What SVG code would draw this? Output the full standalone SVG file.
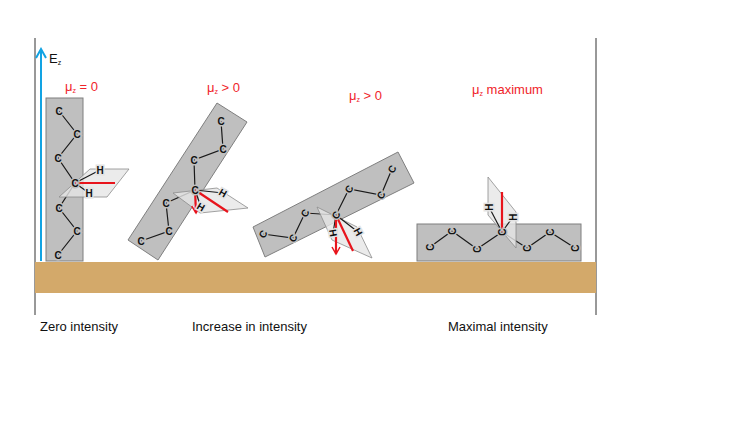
<svg xmlns="http://www.w3.org/2000/svg" width="750" height="421" viewBox="0 0 750 421">
<defs>
<marker id="rd" markerWidth="10" markerHeight="10" refX="8" refY="5" orient="auto" markerUnits="userSpaceOnUse"><path d="M1,1 L8,5 L1,9" fill="none" stroke="#e8141c" stroke-width="1.5"/></marker>
<marker id="bl" markerWidth="12" markerHeight="12" refX="10" refY="6" orient="auto" markerUnits="userSpaceOnUse"><path d="M1,1 L10,6 L1,11" fill="none" stroke="#12a3e3" stroke-width="2"/></marker>
</defs>
<style>
.sh{fill:#bfbfbf;stroke:#7f7f7f;stroke-width:1}
.pl{fill:#e6e6e6;fill-opacity:.8;stroke:#8c8c8c;stroke-width:.8}
.b{fill:none;stroke:#1a1a1a;stroke-width:1.2}
.c{font-family:"Liberation Sans",Arial,sans-serif;font-size:10px;font-weight:bold;fill:#111;text-anchor:middle;dominant-baseline:central;stroke:#bfbfbf;stroke-width:3px;paint-order:stroke}
.h{stroke:#e3e3e3}
.r{stroke:#e8141c;stroke-width:2.2;fill:none}
.mu{font-family:"Liberation Sans",Arial,sans-serif;font-size:13px;fill:#f0242a}
.lab{font-family:"Liberation Sans",Arial,sans-serif;font-size:13px;fill:#111}
</style>
<rect width="750" height="421" fill="#fff"/>
<line x1="35" y1="38" x2="35" y2="315" stroke="#333" stroke-width="1"/>
<line x1="596" y1="38" x2="596" y2="315" stroke="#333" stroke-width="1"/>
<rect x="35" y="262" width="561" height="31" fill="#d3a96a"/>
<line x1="41" y1="261" x2="41" y2="49" stroke="#12a3e3" stroke-width="2" marker-end="url(#bl)"/>
<text x="49" y="63" class="lab">E<tspan font-size="7" dy="2">z</tspan></text>
<text x="65" y="91" class="mu">μ<tspan font-size="7" dy="2">z</tspan><tspan dy="-2"> = 0</tspan></text>
<text x="207" y="92" class="mu">μ<tspan font-size="7" dy="2">z</tspan><tspan dy="-2"> &gt; 0</tspan></text>
<text x="349" y="100" class="mu">μ<tspan font-size="7" dy="2">z</tspan><tspan dy="-2"> &gt; 0</tspan></text>
<text x="472" y="94" class="mu">μ<tspan font-size="7" dy="2">z</tspan><tspan dy="-2"> maximum</tspan></text>

<g id="mol1">
<rect x="46" y="98" width="37" height="163" class="sh"/>
<polyline class="b" points="59,111 77,134 58,158 75,183 59,208 77,231 58,255"/>
<polygon class="pl" points="90,169 129,169 107,197 59,197"/>
<line class="b" x1="75" y1="183" x2="100" y2="170"/><line class="b" x1="75" y1="183" x2="89" y2="193"/>
<line class="r" x1="75" y1="183" x2="115" y2="183"/>
<text class="c" x="59" y="111">C</text><text class="c" x="77" y="134">C</text><text class="c" x="58" y="158">C</text><text class="c" x="75" y="183">C</text><text class="c" x="59" y="208">C</text><text class="c" x="77" y="231">C</text><text class="c" x="58" y="255">C</text>
<text class="c h" x="100" y="170">H</text><text class="c h" x="89" y="193">H</text>
</g>

<g id="mol2">
<polygon class="sh" points="128,240 158,260 247,122 217,103"/>
<polyline class="b" points="221,121 223,149 194,160 195,190 166,203 169,231 141,241"/>
<polygon class="pl" points="173,193 217,188 248,208 200,213"/>
<line class="b" x1="195" y1="190" x2="223" y2="193"/><line class="b" x1="195" y1="190" x2="201" y2="207"/>
<line class="r" x1="195" y1="190" x2="228" y2="212"/>
<line class="r" x1="195" y1="190" x2="196" y2="213" marker-end="url(#rd)"/>
<text class="c" x="221" y="121">C</text><text class="c" x="223" y="149">C</text><text class="c" x="194" y="160">C</text><text class="c" x="195" y="190">C</text><text class="c" x="166" y="203">C</text><text class="c" x="169" y="231">C</text><text class="c" x="141" y="241">C</text>
<text class="c h" x="223" y="193" transform="rotate(30 223 193)">H</text><text class="c h" x="201" y="207" transform="rotate(30 201 207)">H</text>
</g>

<g id="mol3">
<polygon class="sh" points="253,227 265,257 414,183 398,152"/>
<polyline class="b" points="263,234 293,238 305,213 336,215 349,189 381,195 392,169"/>
<polygon class="pl" points="317,207 357,227 372,258 332,240"/>
<line class="b" x1="336" y1="215" x2="333" y2="233"/><line class="b" x1="336" y1="215" x2="358" y2="232"/>
<line class="r" x1="336" y1="215" x2="353" y2="251"/>
<line class="r" x1="336" y1="215" x2="336" y2="254" marker-end="url(#rd)"/>
<text class="c" x="263" y="234" transform="rotate(-60 263 234)">C</text><text class="c" x="293" y="238" transform="rotate(-60 293 238)">C</text><text class="c" x="305" y="213" transform="rotate(-60 305 213)">C</text><text class="c" x="336" y="215" transform="rotate(-60 336 215)">C</text><text class="c" x="349" y="189" transform="rotate(-60 349 189)">C</text><text class="c" x="381" y="195" transform="rotate(-60 381 195)">C</text><text class="c" x="392" y="169" transform="rotate(-60 392 169)">C</text>
<text class="c h" x="333" y="233" transform="rotate(80 333 233)">H</text><text class="c h" x="358" y="232" transform="rotate(60 358 232)">H</text>
</g>

<g id="mol4">
<rect x="417" y="224" width="164" height="37" class="sh"/>
<polyline class="b" points="430,247 452,231 477,249 502,232 527,248 550,232 575,248"/>
<polygon class="pl" points="488,177 516,212 516,248 488,215"/>
<line class="b" x1="502" y1="232" x2="489" y2="207"/><line class="b" x1="502" y1="232" x2="513" y2="217"/>
<line class="r" x1="502" y1="232" x2="502" y2="192"/>
<text class="c" x="430" y="247" transform="rotate(-90 430 247)">C</text><text class="c" x="452" y="231" transform="rotate(-90 452 231)">C</text><text class="c" x="477" y="249" transform="rotate(-90 477 249)">C</text><text class="c" x="502" y="232" transform="rotate(-90 502 232)">C</text><text class="c" x="527" y="248" transform="rotate(-90 527 248)">C</text><text class="c" x="550" y="232" transform="rotate(-90 550 232)">C</text><text class="c" x="575" y="248" transform="rotate(-90 575 248)">C</text>
<text class="c h" x="489" y="207" transform="rotate(-90 489 207)">H</text><text class="c h" x="513" y="217" transform="rotate(-90 513 217)">H</text>
</g>

<text x="40" y="331" class="lab">Zero intensity</text>
<text x="192" y="331" class="lab">Increase in intensity</text>
<text x="448" y="331" class="lab">Maximal intensity</text>
</svg>
